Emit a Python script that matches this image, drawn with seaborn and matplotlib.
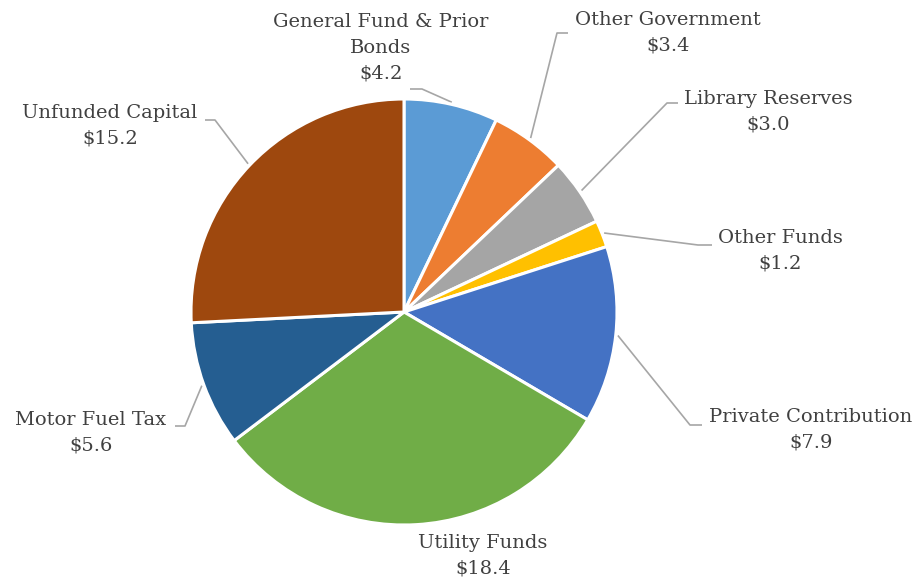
import numpy as np
import pandas as pd
import matplotlib
matplotlib.use("Agg")
import matplotlib.pyplot as plt
import seaborn as sns

# Funding sources (millions of dollars)
sources = ["General Fund & Prior\nBonds", "Other Government", "Library Reserves",
           "Other Funds", "Private Contribution", "Utility Funds",
           "Motor Fuel Tax", "Unfunded Capital"]
amounts = [4.2, 3.4, 3.0, 1.2, 7.9, 18.4, 5.6, 15.2]
colors = ["#5B9BD5", "#ED7D31", "#A5A5A5", "#FFC000",
          "#4472C4", "#70AD47", "#255E91", "#9E480E"]

df = pd.DataFrame({"source": sources, "amount": amounts})

sns.set_theme(style="white")
palette = sns.color_palette(colors)
plt.rcParams["font.family"] = ["DejaVu Serif"]

W, H, DPI = 923, 583, 100
CX, CY, R = 404, 312, 213  # pie centre and radius in pixels

fig = plt.figure(figsize=(W / DPI, H / DPI), dpi=DPI)
ax = fig.add_axes([0, 0, 1, 1])

wedges, _ = ax.pie(df["amount"], colors=palette, startangle=90, counterclock=False,
                   radius=1.0, wedgeprops=dict(edgecolor="white", linewidth=2.2))

# pie() resets the limits, so fix the view afterwards
ax.set_xlim(-CX / R, (W - CX) / R)
ax.set_ylim(-(H - CY) / R, CY / R)
ax.set_aspect("equal")
ax.axis("off")


def px(x, y):
    """Pixel position -> data coordinates."""
    return (x - CX) / R, (CY - y) / R


# label block centre and leader elbow (label end, bend) in pixels
label_pos = [(381, 48), (668, 33), (768, 112), (780, 251),
             (811, 430), (483, 556), (91, 433), (110, 126)]
elbows = [((410, 89), (422, 89)), ((568, 33), (557, 33)),
          ((678, 103), (667, 103)), ((712, 245), (698, 245)),
          ((702, 425), (690, 425)), None,
          ((175, 426), (185, 426)), ((205, 120), (215, 120))]

text_color = "#404040"
line_color = "#A6A6A6"

for w, name, val, pos, elb in zip(wedges, df["source"], df["amount"], label_pos, elbows):
    x, y = px(*pos)
    ax.text(x, y, f"{name}\n${val:.1f}", ha="center", va="center",
            fontsize=14, color=text_color, linespacing=1.56)
    if elb is not None:
        mid = np.deg2rad((w.theta1 + w.theta2) / 2)
        ex, ey = 1.01 * np.cos(mid), 1.01 * np.sin(mid)
        (ax0, ay0), (bx0, by0) = px(*elb[0]), px(*elb[1])
        ax.plot([ax0, bx0, ex], [ay0, by0, ey], color=line_color, lw=1.2,
                solid_capstyle="butt", zorder=0)

fig.savefig("out.png", dpi=DPI, facecolor="white")
